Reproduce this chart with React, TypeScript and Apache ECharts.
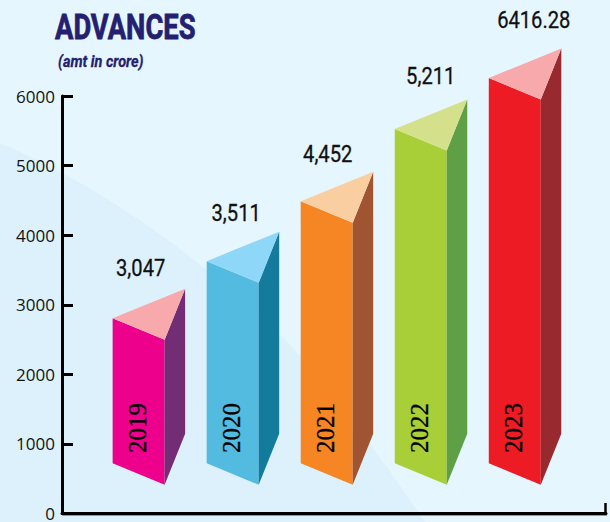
import React, { useEffect, useRef } from "react";
import * as echarts from "echarts";

const years = [2019, 2020, 2021, 2022, 2023];
const valueLabels = ["3,047", "3,511", "4,452", "5,211", "6416.28"];
// Height of each drawn column (front-left top corner).
const barTops = [2806, 3626, 4489, 5525, 6259];
const barBase = 722;
const yTicks = [0, 1000, 2000, 3000, 4000, 5000, 6000];
const titleText = "ADVANCES";
const subtitleText = "(amt in crore)";

const frontColors = ["#ec008c", "#53bae0", "#f68623", "#a8cf38", "#ed1c24"];
const sideColors = ["#722d75", "#147b9d", "#a05432", "#5fa046", "#982a2f"];
const topColors = ["#f8a9ac", "#8ed7f8", "#f9cfa2", "#d4e18a", "#f8a9ac"];
const labelOffsets = [[2, -51], [3.5, -48.5], [1, -48], [10, -54], [19, -59]];

const BG_SHAPE = "advBgCurve";
echarts.graphic.registerShape(
  BG_SHAPE,
  echarts.graphic.extendPath(
    "M0 143 C110 190 210 265 290 345 C340 400 390 470 425 522 L0 522 Z",
    {}
  ) as any
);

export default function App() {
  const ref = useRef<HTMLDivElement>(null);
  useEffect(() => {
    document.body.style.margin = "0";
    const chart = echarts.init(ref.current!, undefined, { renderer: "svg" });
    const renderItem = (params: any, api: any) => {
      const i = params.dataIndex;
      const [cx, yTop] = api.coord([api.value(0), api.value(1)]);
      const [, yBase] = api.coord([api.value(0), barBase]);
      const half = 26, sideW = 20.5, slope = 21.5, rise = 51;
      const L = cx - half, R = cx + half, B = R + sideW;
      const poly = (points: number[][], fill: string) => ({
        type: "polygon",
        shape: { points },
        style: { fill },
      });
      return {
        type: "group",
        children: [
          poly([[L, yTop], [R, yTop + slope], [R, yBase + slope], [L, yBase]], frontColors[i]),
          poly([[R, yTop + slope], [B, yTop + slope - rise], [B, yBase + slope - rise], [R, yBase + slope]], sideColors[i]),
          poly([[L, yTop], [R, yTop + slope], [B, yTop + slope - rise]], topColors[i]),
          {
            type: "text",
            x: cx - 1,
            y: 428,
            rotation: Math.PI / 2,
            style: {
              text: String(years[i]),
              fontFamily: "Liberation Serif",
              fontSize: 25,
              fill: "#000",
              stroke: "#000",
              lineWidth: 0.3,
              align: "center",
              verticalAlign: "middle",
            },
          },
          {
            type: "text",
            x: L + labelOffsets[i][0] + 26,
            y: yTop + labelOffsets[i][1],
            scaleX: 0.84,
            style: {
              text: valueLabels[i],
              fontFamily: "Roboto",
              fontWeight: 400,
              fontSize: 24,
              fill: "#111",
              stroke: "#111",
              lineWidth: 0.3,
              align: "center",
              verticalAlign: "middle",
            },
          },
        ],
      };
    };
    chart.setOption({
      animation: false,
      backgroundColor: "#e6f6ff",
      graphic: [
        { type: BG_SHAPE, x: 0, y: 0, z: -10, silent: true, style: { fill: "#ddf1fd" } },
        {
          type: "text",
          x: 55,
          y: 27,
          scaleX: 0.76,
          style: {
            text: titleText,
            fontFamily: "Roboto",
            fontWeight: "bold",
            fontSize: 36,
            fill: "#24206f",
            stroke: "#24206f",
            lineWidth: 0.8,
            verticalAlign: "middle",
          },
        },
        {
          type: "text",
          x: 58,
          y: 61,
          scaleX: 0.85,
          style: {
            text: subtitleText,
            fontFamily: "Roboto",
            fontWeight: "bold",
            fontStyle: "italic",
            fontSize: 17,
            fill: "#24206f",
            stroke: "#24206f",
            lineWidth: 0.3,
            verticalAlign: "middle",
          },
        },
        {
          type: "line",
          z: 5,
          shape: { x1: 62, y1: 515.5, x2: 607, y2: 515.5 },
          style: { stroke: "#8a9aa8", lineWidth: 1 },
        },
        {
          type: "line",
          z: 6,
          shape: { x1: 605.5, y1: 503, x2: 605.5, y2: 515 },
          style: { stroke: "#000", lineWidth: 2.5 },
        },
      ],
      grid: { left: 62, right: 4, top: 96, bottom: 8.5 },
      xAxis: {
        type: "value",
        min: 2018.185,
        max: 2023.97,
        axisLine: { show: true, onZero: false, lineStyle: { color: "#000", width: 3 } },
        axisTick: { show: false },
        axisLabel: { show: false },
        splitLine: { show: false },
      },
      yAxis: {
        type: "value",
        min: yTicks[0],
        max: yTicks[yTicks.length - 1],
        interval: 1000,
        axisLine: { show: true, lineStyle: { color: "#000", width: 3 } },
        axisTick: { show: true, inside: true, length: 11, lineStyle: { color: "#000", width: 3 } },
        axisLabel: {
          margin: 7,
          fontFamily: "Open Sans",
          fontSize: 17,
          lineHeight: 14,
          color: "#111",
          formatter: (v: number) => String(v),
        },
        splitLine: { show: false },
      },
      series: [
        {
          type: "custom",
          clip: false,
          renderItem,
          data: years.map((y, i) => [y, barTops[i]]),
        },
      ],
    });
    return () => chart.dispose();
  }, []);
  return <div ref={ref} style={{ position: "fixed", left: 0, top: 0, width: 610, height: 522 }} />;
}
